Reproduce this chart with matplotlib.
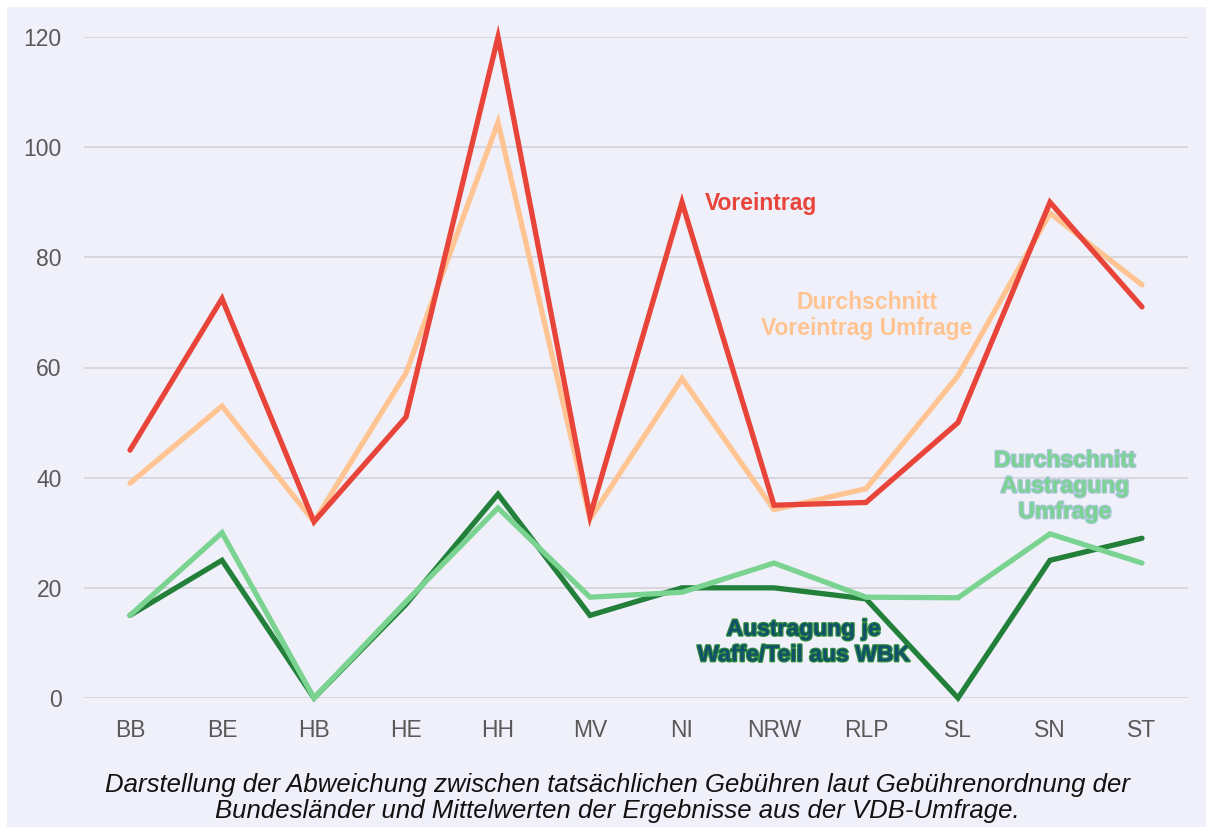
import matplotlib
matplotlib.use("Agg")
import matplotlib.pyplot as plt
import matplotlib.patheffects as pe
from matplotlib.patches import Rectangle

categories = ["BB", "BE", "HB", "HE", "HH", "MV", "NI", "NRW", "RLP", "SL", "SN", "ST"]
voreintrag = [45, 72.5, 32, 51, 120, 33, 90, 35, 35.5, 50, 90, 71]
voreintrag_umfrage = [39, 53, 32, 59, 104.5, 32.5, 58, 34.2, 38, 58.5, 88, 75]
austragung_wbk = [15, 25, 0, 17, 37, 15, 20, 20, 18, 0, 25, 29]
austragung_umfrage = [15, 30, 0, 17.5, 34.5, 18.3, 19.2, 24.5, 18.3, 18.2, 29.8, 24.5]
yticks = [0, 20, 40, 60, 80, 100, 120]

BG = "#EFF0F9"
W, H = 1206, 834
fig = plt.figure(figsize=(W / 100, H / 100), dpi=100, facecolor="white")
fig.patches.append(Rectangle((7 / W, 7 / H), (W - 7) / W, (H - 14) / H,
                             transform=fig.transFigure, facecolor=BG,
                             edgecolor="none", zorder=-10))

ax = fig.add_axes([84 / W, 1 - 698 / H, (1188 - 84) / W, (698 - 37) / H])
ax.set_facecolor("none")
ax.set_zorder(5)
x = list(range(len(categories)))

lw = 3.8
series = [
    (voreintrag_umfrage, "#FFC491"),
    (voreintrag, "#E8443A"),
    (austragung_wbk, "#23803A"),
    (austragung_umfrage, "#7BD391"),
]
for vals, col in series:
    ax.plot(x, vals, color=col, lw=lw, solid_joinstyle="miter",
            solid_capstyle="round", clip_on=False, zorder=3)

ax.set_xlim(-0.5, len(categories) - 0.5)
ax.set_ylim(0, 120)
ax.set_yticks(yticks)
ax.set_xticks(x)
ax.set_xticklabels(categories)
ax.grid(axis="y", color="#D5D5DA", lw=1.3, zorder=1)
ax.set_axisbelow(True)
for s in ax.spines.values():
    s.set_visible(False)
ax.tick_params(length=0, labelsize=16.5, labelcolor="#595959")
ax.tick_params(axis="x", pad=15)
ax.tick_params(axis="y", pad=16)
for lab in ax.get_xticklabels() + ax.get_yticklabels():
    lab.set_fontfamily("Liberation Sans")

kw = dict(fontfamily="Liberation Sans", fontweight="bold", fontsize=16.5,
          zorder=5, linespacing=1.15)
ax.text(6.25, 89.7, "Voreintrag", color="#E8443A", ha="left", va="center", **kw)
ax.text(8.01, 69.5, "Durchschnitt\nVoreintrag Umfrage", color="#FFC491",
        ha="center", va="center", **kw)
ax.text(10.16, 38.5, "Durchschnitt\nAustragung\nUmfrage", color="#7BD391",
        ha="center", va="center",
        path_effects=[pe.withStroke(linewidth=1.8, foreground="#A9C6D8")], **kw)
ax.text(7.32, 10.2, "Austragung je\nWaffe/Teil aus WBK", color="#114F6B",
        ha="center", va="center",
        path_effects=[pe.withStroke(linewidth=1.8, foreground="#2E8B3E")], **kw)

fig.text(0.512, 0.043,
         "Darstellung der Abweichung zwischen tatsächlichen Gebühren laut Gebührenordnung der\n"
         "Bundesländer und Mittelwerten der Ergebnisse aus der VDB-Umfrage.",
         ha="center", va="center", style="italic", fontsize=18.5, color="#111111",
         fontfamily=["Liberation Sans Narrow", "Liberation Sans"], linespacing=1.1)

fig.savefig("out.png", dpi=100, facecolor="white")
